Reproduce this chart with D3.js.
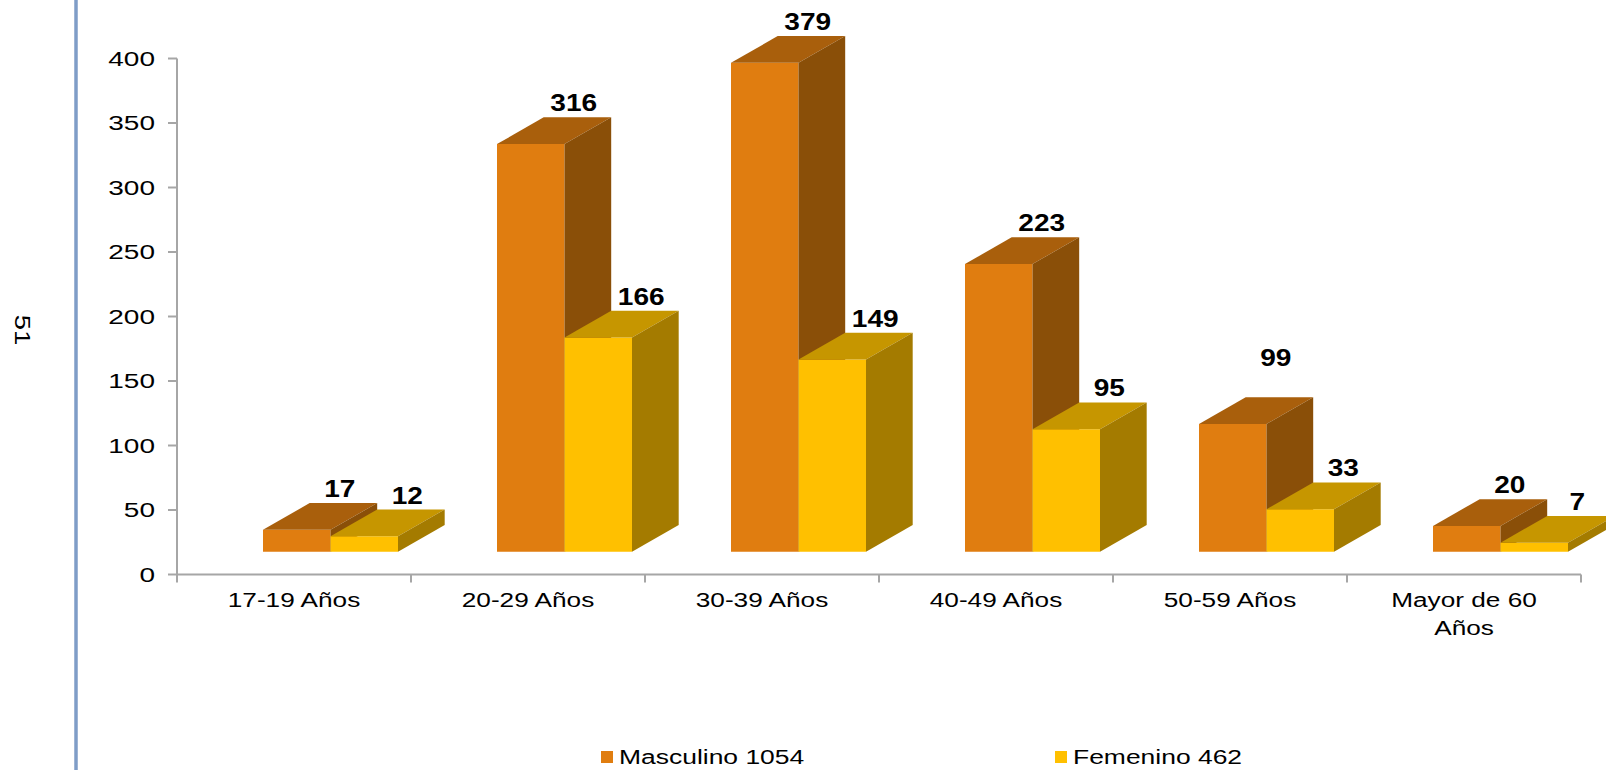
<!DOCTYPE html>
<html>
<head>
<meta charset="utf-8">
<script src="https://cdn.jsdelivr.net/npm/d3@7"></script>
<style>
  html, body { margin: 0; padding: 0; background: #fff; }
  svg { display: block; font-family: "Liberation Sans", Arial, sans-serif; }
</style>
</head>
<body>
<svg id="chart" width="1606" height="770"></svg>
<script>
// ---- data ----
const categories = ["17-19 Años", "20-29 Años", "30-39 Años", "40-49 Años", "50-59 Años", "Mayor de 60\nAños"];
const masculino = [17, 316, 379, 223, 99, 20];
const femenino = [12, 166, 149, 95, 33, 7];
const seriesNames = ["Masculino 1054", "Femenino 462"];
const yTicks = [0, 50, 100, 150, 200, 250, 300, 350, 400];
const pageNumber = "51";

// ---- layout / style ----
const W = 1606, H = 770;
const svg = d3.select("#chart");
const axisColor = "#A6A6A6";
const colors = [
  { front: "#E07D10", top: "#A95F0C", side: "#8A4F08" },
  { front: "#FFC000", top: "#C69600", side: "#A47B00" }
];
const depthX = 46.7, depthY = 26.7, floorLift = 22.8;

const x = d3.scaleBand().domain(categories).range([177, 1581]).paddingInner(0).paddingOuter(0);
const xs = d3.scaleBand().domain([0, 1]).range([86, 221]).paddingInner(0).paddingOuter(0);
const y = d3.scaleLinear().domain([0, 400]).range([574.5, 58.5]);

function stext(g, str, px, py, size, sx, anchor, weight) {
  return g.append("text")
    .attr("transform", `translate(${px},${py}) scale(${sx},1)`)
    .attr("text-anchor", anchor)
    .attr("font-size", size)
    .attr("font-weight", weight || "normal")
    .attr("fill", "#000")
    .text(str);
}

// left blue rule and page number
svg.append("line").attr("x1", 76).attr("x2", 76).attr("y1", 0).attr("y2", H)
  .attr("stroke", "#7F9DC7").attr("stroke-width", 3.5);
svg.append("text")
  .attr("transform", "translate(15,330) rotate(90) scale(1.25,1)")
  .attr("text-anchor", "middle")
  .attr("font-size", 22)
  .attr("fill", "#000")
  .text(pageNumber);

// axes
const gAxis = svg.append("g");
gAxis.append("line").attr("x1", x.range()[0]).attr("x2", x.range()[1])
  .attr("y1", y(0)).attr("y2", y(0)).attr("stroke", axisColor).attr("stroke-width", 2);
gAxis.append("line").attr("x1", x.range()[0]).attr("x2", x.range()[0])
  .attr("y1", y(400)).attr("y2", y(0) + 8).attr("stroke", axisColor).attr("stroke-width", 2);
yTicks.forEach(t => {
  gAxis.append("line").attr("x1", x.range()[0] - 9).attr("x2", x.range()[0])
    .attr("y1", y(t)).attr("y2", y(t)).attr("stroke", axisColor).attr("stroke-width", 2);
  stext(gAxis, String(t), 155, y(t) + 7, 20, 1.4, "end");
});
categories.forEach((c, i) => {
  const xr = x(c) + x.bandwidth();
  gAxis.append("line").attr("x1", xr).attr("x2", xr)
    .attr("y1", y(0)).attr("y2", y(0) + 8).attr("stroke", axisColor).attr("stroke-width", 2);
  const lines = c.split("\n");
  lines.forEach((ln, k) => {
    stext(gAxis, ln, x(c) + x.bandwidth() / 2, 607 + k * 28, 20, 1.31, "middle");
  });
});

// 3D bars
const gBars = svg.append("g");
const series = [masculino, femenino];
const labelRaise = { "4-0": 25 };
categories.forEach((c, i) => {
  series.forEach((vals, s) => {
    const v = vals[i];
    const x0 = x(c) + xs(s), x1 = x0 + xs.bandwidth();
    const yt = y(v) - floorLift, yb = y(0) - floorLift;
    const col = colors[s];
    gBars.append("polygon")
      .attr("points", [[x0, yt], [x1, yt], [x1, yb], [x0, yb]].join(" "))
      .attr("fill", col.front);
    gBars.append("polygon")
      .attr("points", [[x0, yt], [x0 + depthX, yt - depthY], [x1 + depthX, yt - depthY], [x1, yt]].join(" "))
      .attr("fill", col.top);
    gBars.append("polygon")
      .attr("points", [[x1, yt], [x1 + depthX, yt - depthY], [x1 + depthX, yb - depthY], [x1, yb]].join(" "))
      .attr("fill", col.side);
  });
});
// data labels
const gLab = svg.append("g");
categories.forEach((c, i) => {
  series.forEach((vals, s) => {
    const v = vals[i];
    const x0 = x(c) + xs(s);
    const cx = x0 + xs.bandwidth() / 2 + 43;
    const yt = y(v) - floorLift - depthY - 6 - (labelRaise[i + "-" + s] || 0);
    stext(gLab, String(v), cx, yt, 23, 1.22, "middle", "bold");
  });
});

// legend
const gLeg = svg.append("g");
const legX = [601, 1055];
seriesNames.forEach((n, s) => {
  gLeg.append("rect").attr("x", legX[s]).attr("y", 751).attr("width", 12).attr("height", 12)
    .attr("fill", colors[s].front);
  stext(gLeg, n, legX[s] + 18, 764, 21, 1.26, "start");
});
</script>
</body>
</html>
